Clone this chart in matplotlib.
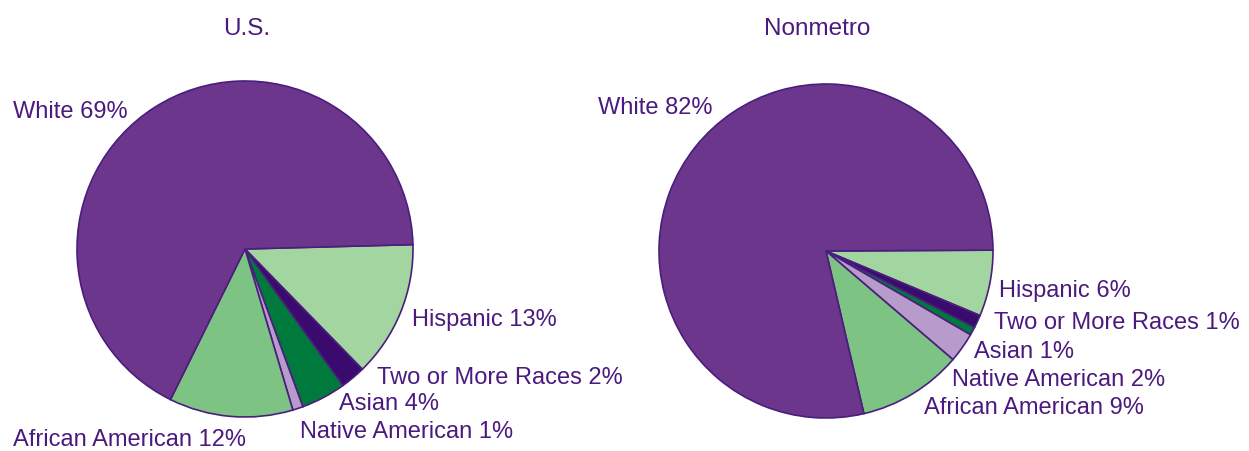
import matplotlib
matplotlib.use("Agg")
import matplotlib.pyplot as plt

# Data
categories = ["Hispanic", "Two or More Races", "Asian", "Native American",
              "African American", "White"]
# label percentages as printed
us_label_pct = [13, 2, 4, 1, 12, 69]
nm_label_pct = [6, 1, 1, 2, 9, 82]
# slice shares as drawn in the picture (percent)
us_shares = [13.1, 2.4, 4.3, 1.0, 11.9, 67.2]
nm_shares = [6.4, 1.25, 0.8, 2.9, 10.1, 78.6]
titles = ["U.S.", "Nonmetro"]

colors = ["#A3D5A0", "#3A0A6E", "#007A3C", "#B79CCB", "#7DC384", "#6B368C"]
edge = "#4A1E7C"
text_color = "#4A1A7E"

W, H = 1249, 452
fig = plt.figure(figsize=(W / 100, H / 100), dpi=100)
ax = fig.add_axes([0, 0, 1, 1])
ax.set_xlim(0, W)
ax.set_ylim(0, H)
ax.set_aspect("equal")
ax.axis("off")

plt.rcParams['font.family'] = ['Liberation Sans', 'DejaVu Sans']

def py(y):
    return H - y

pies = [
    dict(shares=us_shares, labels=us_label_pct, center=(245, 250), r=168, start=1.5,
         title_xy=(247, 29),
         label_xy=[(412, 320), (377, 378), (339, 404), (300, 432), (13, 440), (13, 112)]),
    dict(shares=nm_shares, labels=nm_label_pct, center=(826, 252), r=167, start=0.3,
         title_xy=(817, 29),
         label_xy=[(999, 291), (994, 323), (974, 352), (952, 380), (924, 408), (598, 108)]),
]

for p, title in zip(pies, titles):
    cx, cy = p["center"]
    ax.pie(p["shares"], colors=colors, center=(cx, py(cy)), radius=p["r"],
           startangle=p["start"], counterclock=False, normalize=True,
           wedgeprops=dict(edgecolor=edge, linewidth=1.2), frame=True)
    tx, ty = p["title_xy"]
    ax.text(tx, py(ty), title, ha="center", va="center", fontsize=17.5,
            color=text_color)
    for cat, pct, (lx, ly) in zip(categories, p["labels"], p["label_xy"]):
        ax.text(lx, py(ly), f"{cat} {pct}%", ha="left", va="center",
                fontsize=17, color=text_color)

ax.set_xlim(0, W)
ax.set_ylim(0, H)
ax.axis("off")
fig.savefig("out.png", dpi=100)
